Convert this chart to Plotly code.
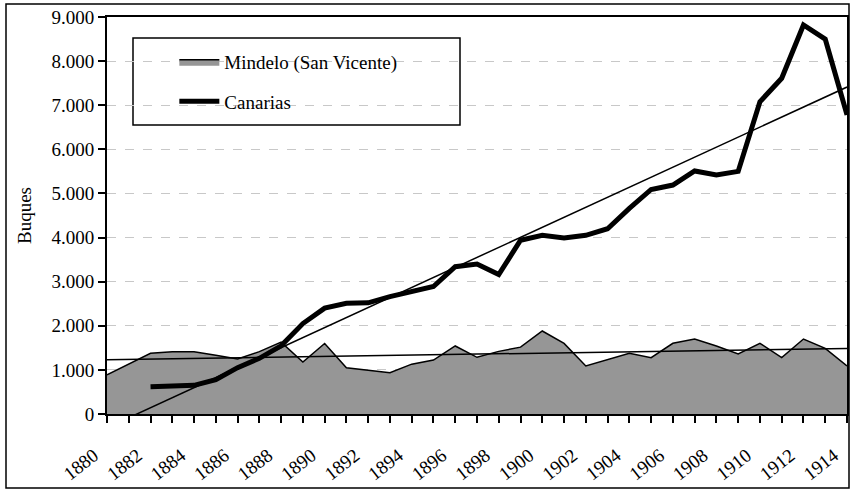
import numpy as np
import plotly.graph_objects as go

years = list(range(1880, 1915))
mindelo = [890, 1130, 1375, 1413, 1413, 1330, 1245, 1413, 1630, 1180,
           1600, 1050, 1000, 937, 1130, 1224, 1542, 1285, 1420, 1515,
           1882, 1600, 1088, 1224, 1375, 1277, 1603, 1700, 1542, 1360,
           1603, 1277, 1700, 1489, 1088]
canarias_years = list(range(1882, 1915))
canarias = [620, 643, 650, 780, 1050, 1262, 1545, 2050, 2400, 2510,
            2520, 2660, 2770, 2890, 3340, 3400, 3160, 3940, 4050, 3990,
            4050, 4200, 4660, 5090, 5190, 5510, 5420, 5500, 7080, 7610,
            8820, 8500, 6780]
y_ticks = [0, 1000, 2000, 3000, 4000, 5000, 6000, 7000, 8000, 9000]

FONT = "Liberation Serif"

# linear trend lines (least squares), drawn over the full category range
xm = np.array(years, dtype=float)
pm = np.polyfit(np.array(years, float), np.array(mindelo, float), 1)
pc = np.polyfit(np.array(canarias_years, float), np.array(canarias, float), 1)
trend_m = np.polyval(pm, xm)
trend_c = np.polyval(pc, xm)

fig = go.Figure()
fig.add_trace(go.Scatter(
    x=years, y=mindelo, name="Mindelo (San Vicente)", mode="lines",
    fill="tozeroy", fillcolor="#969696",
    line=dict(color="black", width=1.5), legendgroup="a"))
fig.add_trace(go.Scatter(
    x=canarias_years, y=canarias, name="Canarias", mode="lines",
    line=dict(color="black", width=5), legendgroup="b"))
fig.add_trace(go.Scatter(
    x=years, y=trend_m, mode="lines", showlegend=False,
    line=dict(color="black", width=1.5), hoverinfo="skip"))
fig.add_trace(go.Scatter(
    x=years, y=trend_c, mode="lines", showlegend=False,
    line=dict(color="black", width=1.5), hoverinfo="skip"))

fig.update_layout(
    width=850, height=490,
    margin=dict(l=107, r=3, t=17, b=76, autoexpand=False),
    paper_bgcolor="white", plot_bgcolor="white",
    separators=",.",
    font=dict(family=FONT, size=18, color="black"),
    showlegend=True,
    legend=dict(x=0.091, y=0.935, xanchor="left", yanchor="top",
                bgcolor="rgba(0,0,0,0)", borderwidth=0,
                font=dict(family=FONT, size=19, color="black"),
                tracegroupgap=12, itemwidth=40),
    xaxis=dict(range=[1880, 1914.0001], tickmode="linear", tick0=1880, dtick=2,
               tickangle=-38, showgrid=False, zeroline=False, automargin=False,
               showline=True, linecolor="black", linewidth=2, mirror=True,
               ticks="outside", ticklen=7, tickwidth=1.5, tickcolor="black",
               ticklabelstandoff=14, ticklabelshift=-13, ticklabeloverflow="allow",
               minor=dict(dtick=1, tick0=1880, ticks="outside", ticklen=7,
                          tickwidth=1.5, tickcolor="black"),
               tickfont=dict(family=FONT, size=19)),
    yaxis=dict(range=[0, 9000], tickmode="array", tickvals=y_ticks,
               tickformat=",.0f", automargin=False,
               showgrid=True, gridcolor="#c8c8c8", griddash="dash", gridwidth=1,
               zeroline=False,
               showline=True, linecolor="black", linewidth=2, mirror=True,
               ticks="outside", ticklen=7, tickwidth=1.5, tickcolor="black",
               tickfont=dict(family=FONT, size=19),
               title=dict(text="Buques", standoff=15,
                          font=dict(family=FONT, size=19))),
    shapes=[
        dict(type="rect", xref="paper", yref="paper",
             x0=(133 - 107) / 740, x1=(460 - 107) / 740,
             y0=(414 - 125) / 397, y1=(414 - 38) / 397,
             line=dict(color="black", width=1.5), fillcolor="white",
             layer="between"),
        dict(type="rect", xref="paper", yref="paper",
             x0=(6 - 107) / 740, x1=(849 - 107) / 740,
             y0=(414 - 488) / 397, y1=(414 - 4) / 397,
             line=dict(color="black", width=1.5), fillcolor="rgba(0,0,0,0)",
             layer="above"),
    ],
)

fig.write_html("out.html",
               config={"displayModeBar": False},
               post_script="document.body.style.margin='0';document.body.style.padding='0';")
